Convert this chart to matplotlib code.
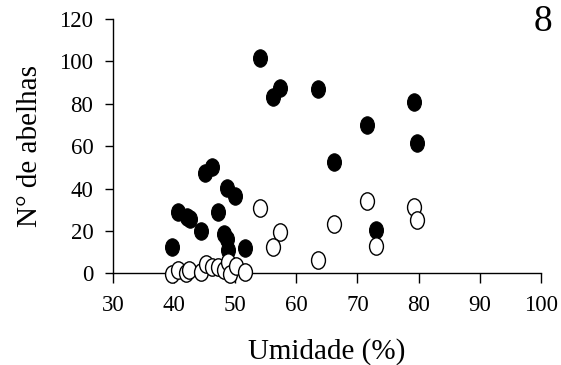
import numpy as np
import matplotlib.pyplot as plt
from matplotlib.path import Path
from matplotlib.transforms import Affine2D

# Umidade (%) e numero de abelhas - simbolos cheios
umid_cheio = [54.1, 56.2, 57.3, 63.6, 79.2, 71.6, 79.7, 66.2, 45.1, 46.3,
              48.7, 50.0, 40.6, 42.2, 42.6, 47.2, 44.4, 48.2, 48.6, 48.9,
              51.6, 39.7, 73.0]
abelhas_cheio = [101.5, 83, 87.5, 87, 81, 70, 61.5, 52.5, 47.5, 50,
                 40.5, 36.5, 29, 26.5, 25.5, 29, 20, 18.5, 16, 11,
                 12, 12.5, 20.5]

# simbolos vazios
umid_vazio = [54.0, 57.3, 56.2, 63.6, 66.2, 71.6, 73.0, 79.2, 79.7,
              39.7, 40.6, 42.0, 42.5, 44.4, 45.2, 46.3, 47.2, 48.2, 48.9,
              49.1, 50.1, 51.6]
abelhas_vazio = [31, 19.5, 12.5, 6.5, 23.5, 34, 13, 31.5, 25,
                 -0.5, 1.5, 0, 1.5, 0.5, 4.5, 3, 3, 1.5, 5.5,
                 -0.5, 3.3, 0.5]

# marcador eliptico (mais alto que largo)
elipse = Path.unit_circle().transformed(Affine2D().scale(0.8, 1.0))

plt.rcParams['font.family'] = ['Liberation Serif', 'DejaVu Serif']

fig = plt.figure(figsize=(5.61, 3.65), dpi=100)
ax = fig.add_axes([0.201, 0.251, 0.7633, 0.697])

ax.plot(umid_cheio, abelhas_cheio, linestyle='none', marker=elipse,
        markersize=12.5, markerfacecolor='black', markeredgecolor='black',
        markeredgewidth=0.8, clip_on=False, zorder=3)
ax.plot(umid_vazio, abelhas_vazio, linestyle='none', marker=elipse,
        markersize=12.5, markerfacecolor='white', markeredgecolor='black',
        markeredgewidth=1.0, clip_on=False, zorder=4)

ax.set_xlim(30, 100)
ax.set_ylim(0, 120)
ax.set_xticks(np.arange(30, 101, 10))
ax.set_yticks(np.arange(0, 121, 20))
ax.spines['top'].set_visible(False)
ax.spines['right'].set_visible(False)
for s in ['left', 'bottom']:
    ax.spines[s].set_linewidth(1.0)
ax.tick_params(axis='x', direction='out', length=7.5, width=1.0,
               labelsize=16.5, pad=8)
ax.tick_params(axis='y', direction='out', length=6, width=1.0,
               labelsize=16.5, pad=8)

ax.set_xlabel('Umidade (%)', fontsize=21, labelpad=16)
ax.set_ylabel('N° de abelhas', fontsize=21, labelpad=12)

fig.text(0.968, 0.94, '8', fontsize=27, ha='center', va='center')

fig.savefig('out.png', dpi=100)
